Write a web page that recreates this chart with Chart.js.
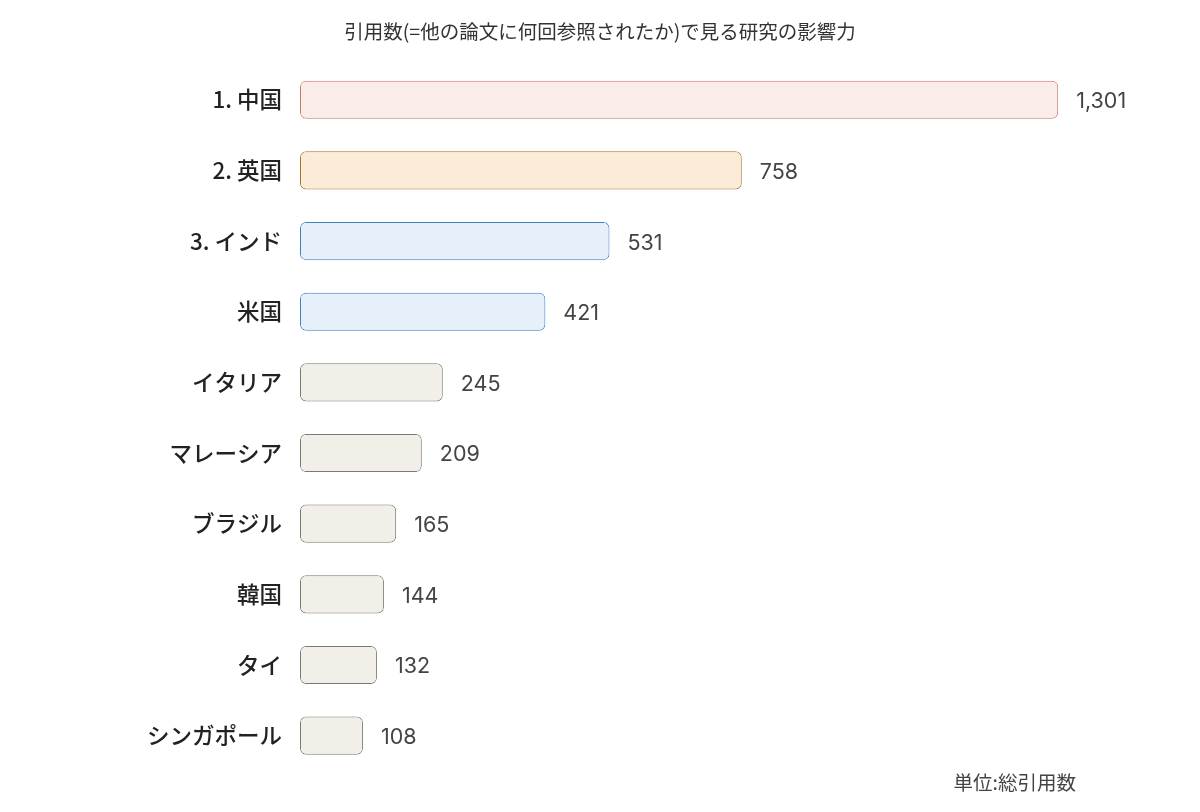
<!DOCTYPE html>
<html lang="ja">
<head>
<meta charset="utf-8">
<script src="https://cdn.jsdelivr.net/npm/chart.js@4/dist/chart.umd.min.js"></script>
<style>
  html, body { margin: 0; padding: 0; background: #fff; }
  #wrap { width: 1200px; height: 812px; }
</style>
</head>
<body>
<div id="wrap"><canvas id="chart"></canvas></div>
<script>
const countries = ["1. 中国", "2. 英国", "3. インド", "米国", "イタリア", "マレーシア", "ブラジル", "韓国", "タイ", "シンガポール"];
const citations = [1301, 758, 531, 421, 245, 209, 165, 144, 132, 108];
const fills = ["#faece8", "#faecd8", "#e6f0fa", "#e6f0fa", "#f2efe8", "#f2efe8", "#f2efe8", "#f2efe8", "#f2efe8", "#f2efe8"];
const borders = ["#c47a68", "#a8732f", "#3f7fc4", "#3f7fc4", "#7d7873", "#7d7873", "#7d7873", "#7d7873", "#7d7873", "#7d7873"];
const titleText = "引用数(=他の論文に何回参照されたか)で見る研究の影響力";
const unitText = "単位:総引用数";

const jpFont = '"Noto Sans CJK JP", "Noto Sans", sans-serif';
const numFont = '"Inter", "Noto Sans", sans-serif';

// value labels after each bar, and the unit note under the plot
const valueLabels = {
    id: "valueLabels",
    afterDatasetsDraw(chart) {
        const ctx = chart.ctx;
        const meta = chart.getDatasetMeta(0);
        ctx.save();
        ctx.font = "21.5px " + numFont;
        ctx.fillStyle = "#444";
        ctx.textAlign = "left";
        ctx.textBaseline = "middle";
        meta.data.forEach((bar, i) => {
            ctx.fillText(citations[i].toLocaleString("en-US"), bar.x + 18, bar.y + 2);
        });
        ctx.font = "19.5px " + jpFont;
        ctx.fillStyle = "#444";
        ctx.textAlign = "right";
        ctx.fillText(unitText, chart.chartArea.right - 104, chart.chartArea.bottom + 12);
        ctx.restore();
    },
};

new Chart(document.getElementById("chart"), {
    type: "bar",
    data: {
        labels: countries,
        datasets: [
            {
                data: citations,
                backgroundColor: fills,
                borderColor: borders,
                borderWidth: 1,
                borderRadius: 6,
                borderSkipped: false,
                barPercentage: 0.54,
                categoryPercentage: 1,
            },
        ],
    },
    options: {
        indexAxis: "y",
        responsive: true,
        maintainAspectRatio: false,
        animation: false,
        layout: {
            padding: { left: 20, right: 20, top: 0, bottom: 41 },
        },
        plugins: {
            legend: { display: false },
            tooltip: { enabled: false },
            title: {
                display: true,
                text: titleText,
                color: "#333",
                font: { family: jpFont, size: 19.5, weight: "normal" },
                padding: { top: 20, bottom: 21 },
            },
        },
        scales: {
            x: {
                min: 0,
                max: 1510,
                display: false,
            },
            y: {
                grid: { display: false, drawTicks: false },
                border: { display: false },
                ticks: {
                    color: "#222",
                    padding: 18,
                    font: { family: jpFont, size: 22.5, weight: 500 },
                },
                afterFit(scale) {
                    scale.width = 280;
                },
            },
        },
    },
    plugins: [valueLabels],
});
</script>
</body>
</html>
